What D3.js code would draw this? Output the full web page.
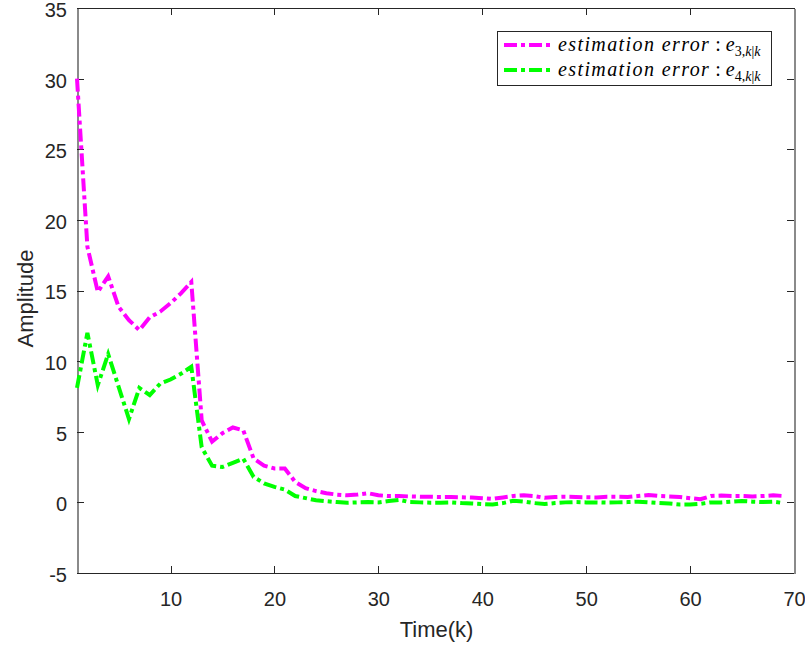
<!DOCTYPE html>
<html>
<head>
<meta charset="utf-8">
<script src="https://cdn.jsdelivr.net/npm/d3@7"></script>
<style>
  body { margin: 0; background: #fff; }
  #chart { width: 805px; height: 647px; }
</style>
</head>
<body>
<div id="chart"></div>
<script>
// time steps k = 1..69
const steps = d3.range(1, 70);
// estimation error e3,k|k (magenta)
const e3 = [30, 18.1, 14.9, 16.0, 13.85, 12.9, 12.2, 13.1, 13.5, 14.1,
  14.8, 15.6, 5.8, 4.3, 4.9, 5.3, 5.1, 3.1, 2.6, 2.4,
  2.4, 1.45, 1.0, 0.8, 0.65, 0.55, 0.5, 0.55, 0.65, 0.5,
  0.45, 0.45, 0.42, 0.4, 0.4, 0.38, 0.38, 0.36, 0.34, 0.3,
  0.25, 0.35, 0.45, 0.5, 0.45, 0.32, 0.38, 0.4, 0.38, 0.36,
  0.35, 0.4, 0.4, 0.38, 0.45, 0.52, 0.45, 0.42, 0.38, 0.3,
  0.22, 0.45, 0.48, 0.45, 0.45, 0.42, 0.45, 0.5, 0.45];
// estimation error e4,k|k (green)
const e4 = [8.1, 12.0, 8.3, 10.5, 8.2, 5.9, 8.1, 7.6, 8.4, 8.7,
  9.1, 9.6, 3.9, 2.6, 2.5, 2.8, 3.1, 1.8, 1.35, 1.1,
  0.9, 0.45, 0.3, 0.15, 0.08, 0.02, -0.03, 0.0, 0.02, 0.0,
  0.1, 0.18, 0.02, 0.0, -0.02, -0.02, 0.0, -0.05, -0.08, -0.12,
  -0.15, -0.05, 0.12, 0.05, -0.05, -0.12, -0.05, 0.0, 0.02, 0.0,
  0.0, -0.02, 0.0, 0.02, 0.05, 0.0, -0.05, -0.08, -0.15, -0.15,
  -0.1, 0.0, 0.0, 0.05, 0.1, 0.05, 0.02, 0.05, -0.05];
const xTicks = [10, 20, 30, 40, 50, 60, 70];
const yTicks = [-5, 0, 5, 10, 15, 20, 25, 30, 35];

const margin = { top: 8, right: 11, bottom: 74, left: 77 };
const W = 805, H = 647;
const width = W - margin.left - margin.right;
const height = H - margin.top - margin.bottom;
const axisColor = "#262626";
const sans = "'Liberation Sans', Arial, sans-serif";

const svg = d3.select("#chart").append("svg")
    .attr("width", W)
    .attr("height", H);

const g = svg.append("g")
    .attr("transform", `translate(${margin.left},${margin.top})`);

const x = d3.scaleLinear().domain([1, 70]).range([0, width]);
const y = d3.scaleLinear().domain([-5, 35]).range([height, 0]);

// axes, MATLAB style: box with inward ticks on all sides
function styleAxis(sel) {
  sel.selectAll("path").attr("stroke", axisColor).attr("shape-rendering", "crispEdges");
  sel.selectAll("line").attr("stroke", axisColor).attr("shape-rendering", "crispEdges");
  sel.selectAll("text")
      .attr("fill", axisColor)
      .attr("font-family", sans)
      .attr("font-size", 20);
}
// the vertical box edges look lighter/softer in the original
function softEdge(sel) {
  sel.select("path.domain").attr("stroke", "#8a8a8a").attr("stroke-width", 2);
}

g.append("g")
    .attr("transform", `translate(0,${height})`)
    .call(d3.axisBottom(x).tickValues(xTicks).tickSizeInner(-7).tickSizeOuter(0).tickPadding(19))
    .call(styleAxis);

g.append("g")
    .call(d3.axisTop(x).tickValues(xTicks).tickSizeInner(-7).tickSizeOuter(0).tickFormat(""))
    .call(styleAxis);

g.append("g")
    .call(d3.axisLeft(y).tickValues(yTicks).tickSizeInner(-7).tickSizeOuter(0).tickPadding(10)
      .tickFormat(d => String(d)))
    .call(styleAxis)
    .call(softEdge)
    .call(a => a.selectAll("text").attr("dy", "0.42em"));

g.append("g")
    .attr("transform", `translate(${width},0)`)
    .call(d3.axisRight(y).tickValues(yTicks).tickSizeInner(-7).tickSizeOuter(0).tickFormat(""))
    .call(styleAxis)
    .call(softEdge);

// axis titles
g.append("text")
    .attr("x", width / 2 + 1)
    .attr("y", height + 64)
    .attr("text-anchor", "middle")
    .attr("fill", axisColor)
    .attr("font-family", sans)
    .attr("font-size", 22)
    .text("Time(k)");

g.append("text")
    .attr("transform", `translate(${-44},${height / 2 + 8}) rotate(-90)`)
    .attr("text-anchor", "middle")
    .attr("fill", axisColor)
    .attr("font-family", sans)
    .attr("font-size", 22)
    .text("Amplitude");

// lines
const series = [
  { values: e3, color: "#ff00ff", idx: "3" },
  { values: e4, color: "#00ff00", idx: "4" }
];
const dash = "13,4,4,4";

const line = d3.line()
    .x((d, i) => x(steps[i]))
    .y(d => y(d));

series.forEach(s => {
  g.append("path")
      .datum(s.values)
      .attr("fill", "none")
      .attr("stroke", s.color)
      .attr("stroke-width", 4)
      .attr("stroke-dasharray", dash)
      .attr("d", line);
});

// legend
const lg = svg.append("g").attr("transform", "translate(497,31)");
lg.append("rect")
    .attr("width", 274)
    .attr("height", 54)
    .attr("fill", "#fff")
    .attr("stroke", axisColor)
    .attr("shape-rendering", "crispEdges");

series.forEach((s, i) => {
  const ry = 14 + i * 25;
  lg.append("line")
      .attr("x1", 7).attr("x2", 56)
      .attr("y1", ry).attr("y2", ry)
      .attr("stroke", s.color)
      .attr("stroke-width", 4)
      .attr("stroke-dasharray", dash);
  const t = lg.append("text")
      .attr("x", 61)
      .attr("y", ry + 6)
      .attr("fill", "#000")
      .attr("font-family", "'Liberation Serif', 'Times New Roman', serif")
      .attr("font-size", 20);
  t.append("tspan").attr("font-style", "italic").attr("letter-spacing", 1.4).text("estimation error");
  t.append("tspan").text(" : ");
  t.append("tspan").attr("font-style", "italic").text("e");
  const sub = t.append("tspan").attr("dy", 5).attr("font-size", 14);
  sub.append("tspan").text(s.idx + ",");
  sub.append("tspan").attr("font-style", "italic").text("k");
  sub.append("tspan").text("|");
  sub.append("tspan").attr("font-style", "italic").text("k");
});
</script>
</body>
</html>
